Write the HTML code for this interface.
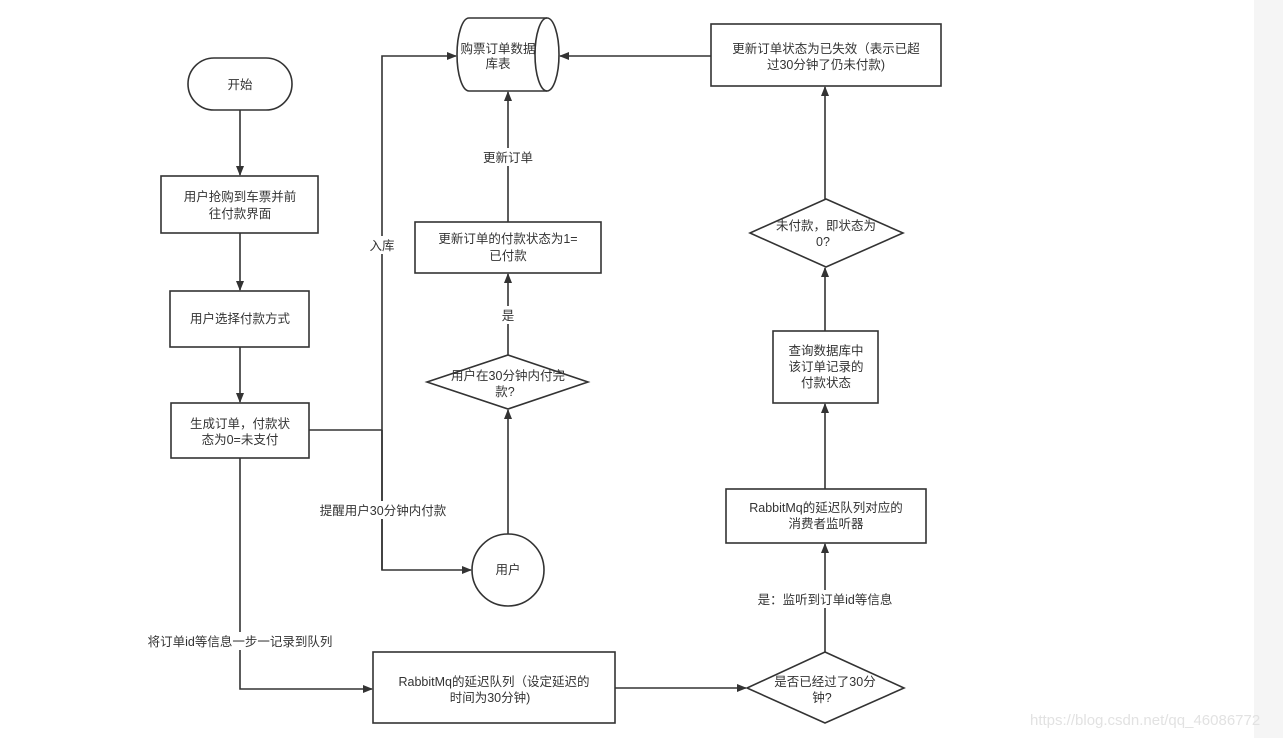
<!DOCTYPE html>
<html><head><meta charset="utf-8"><style>
html,body{margin:0;padding:0;background:#fff;}
svg text{font-family:"Liberation Sans","Noto Sans CJK SC",sans-serif;font-size:12.5px;fill:#333;}
</style></head><body>
<svg width="1283" height="738" viewBox="0 0 1283 738" xmlns="http://www.w3.org/2000/svg">
<defs><marker id="a" markerWidth="10" markerHeight="10" refX="9" refY="5" orient="auto" markerUnits="userSpaceOnUse"><path d="M0,1 L10,5 L0,9 Z" fill="#333"/></marker></defs>
<rect x="1254" y="0" width="29" height="738" fill="#f5f5f5"/>
<g fill="none" stroke="#333" stroke-width="1.6">
<rect x="188" y="58" width="104" height="52" rx="26"/>
<rect x="161" y="176" width="157" height="57"/>
<rect x="170" y="291" width="139" height="56"/>
<rect x="171" y="403" width="138" height="55"/>
<path d="M469,18 L547,18 A12,36.5 0 0 1 547,91 L469,91 A12,36.5 0 0 1 469,18 Z"/>
<path d="M547,18 A12,36.5 0 0 0 547,91"/>
<rect x="415" y="222" width="186" height="51"/>
<path d="M508,355 L588,382 L508,409 L427,382 Z"/>
<circle cx="508" cy="570" r="36"/>
<rect x="373" y="652" width="242" height="71"/>
<path d="M825,652 L904,688 L825,723 L747,688 Z"/>
<rect x="726" y="489" width="200" height="54"/>
<rect x="773" y="331" width="105" height="72"/>
<path d="M826,199 L903,233 L826,267 L750,233 Z"/>
<rect x="711" y="24" width="230" height="62"/>
<path d="M240,110 L240,175" marker-end="url(#a)"/>
<path d="M240,233 L240,290" marker-end="url(#a)"/>
<path d="M240,347 L240,402" marker-end="url(#a)"/>
<path d="M309,430 L382,430"/>
<path d="M382,570 L382,56 L456,56" marker-end="url(#a)"/>
<path d="M382,430 L382,570 L471,570" marker-end="url(#a)"/>
<path d="M240,458 L240,689 L372,689" marker-end="url(#a)"/>
<path d="M615,688 L746,688" marker-end="url(#a)"/>
<path d="M825,652 L825,544" marker-end="url(#a)"/>
<path d="M825,489 L825,404" marker-end="url(#a)"/>
<path d="M825,331 L825,268" marker-end="url(#a)"/>
<path d="M825,199 L825,87" marker-end="url(#a)"/>
<path d="M711,56 L560,56" marker-end="url(#a)"/>
<path d="M508,534 L508,410" marker-end="url(#a)"/>
<path d="M508,355 L508,274" marker-end="url(#a)"/>
<path d="M508,222 L508,92" marker-end="url(#a)"/>
</g>
<g text-anchor="middle">
<text x="240" y="89">开始</text>
<text x="240" y="201">用户抢购到车票并前</text>
<text x="240" y="218">往付款界面</text>
<text x="240" y="323">用户选择付款方式</text>
<text x="240" y="428">生成订单，付款状</text>
<text x="240" y="444">态为0=未支付</text>
<text x="498" y="53">购票订单数据</text>
<text x="498" y="68">库表</text>
<text x="508" y="243">更新订单的付款状态为1=</text>
<text x="508" y="260">已付款</text>
<text x="508" y="380">用户在30分钟内付完</text>
<text x="505" y="396">款?</text>
<text x="508" y="574">用户</text>
<text x="494" y="686">RabbitMq的延迟队列（设定延迟的</text>
<text x="490" y="702">时间为30分钟)</text>
<text x="825" y="686">是否已经过了30分</text>
<text x="822" y="702">钟?</text>
<text x="826" y="512">RabbitMq的延迟队列对应的</text>
<text x="826" y="528">消费者监听器</text>
<text x="826" y="355">查询数据库中</text>
<text x="826" y="371">该订单记录的</text>
<text x="826" y="387">付款状态</text>
<text x="826" y="230">未付款，即状态为</text>
<text x="823" y="246">0?</text>
<text x="826" y="53">更新订单状态为已失效（表示已超</text>
<text x="826" y="69">过30分钟了仍未付款)</text>
</g>
<g text-anchor="middle">
<rect x="470" y="148" width="76" height="18" fill="#fff"/>
<text x="508" y="162">更新订单</text>
<rect x="498" y="306" width="20" height="18" fill="#fff"/>
<text x="508" y="320">是</text>
<rect x="366" y="236" width="32" height="18" fill="#fff"/>
<text x="382" y="250">入库</text>
<rect x="312" y="501" width="142" height="18" fill="#fff"/>
<text x="383" y="515">提醒用户30分钟内付款</text>
<rect x="137" y="632" width="206" height="18" fill="#fff"/>
<text x="240" y="646">将订单id等信息一步一记录到队列</text>
<rect x="750" y="590" width="150" height="18" fill="#fff"/>
<text x="825" y="604">是：监听到订单id等信息</text>
</g>
<text x="1030" y="725" style="font-size:15px;fill:#e2e2e2">https://blog.csdn.net/qq_46086772</text>
</svg>
</body></html>
